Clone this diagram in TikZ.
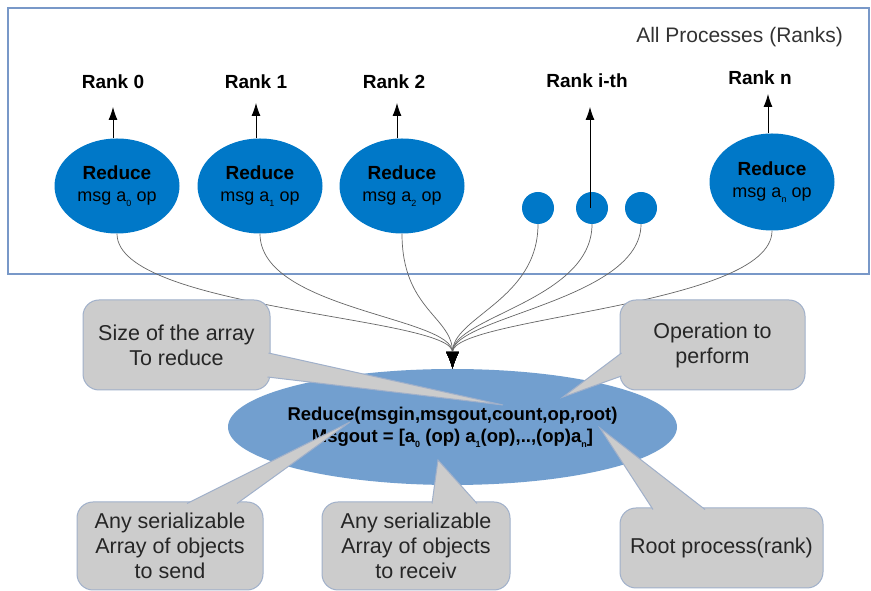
\documentclass[tikz,border=0pt]{standalone}
\usepackage{fontspec}
\setmainfont{Liberation Sans}
\usetikzlibrary{arrows.meta,shapes.geometric}
\definecolor{procblue}{RGB}{0,120,200}
\definecolor{centblue}{RGB}{114,159,207}
\definecolor{frameblue}{RGB}{120,152,200}
\definecolor{callfill}{RGB}{204,204,204}
\definecolor{calldraw}{RGB}{160,176,202}
\newcommand{\sbx}[1]{\raisebox{-5pt}{\fontsize{9}{9}\selectfont #1}}
\begin{document}
\begin{tikzpicture}[x=1pt,y=1pt,
 proc/.style={ellipse, fill=procblue, minimum width=125pt, minimum height=95pt, inner sep=0pt, align=center, text=black, font=\fontsize{18}{22}\selectfont},
 dot/.style={circle, fill=procblue, minimum size=32pt, inner sep=0pt},
 rank/.style={font=\fontsize{19}{22}\selectfont\bfseries, anchor=base, inner sep=0pt},
 up/.style={-{Latex[length=13pt,width=9pt]}, line width=0.8pt, black},
 feed/.style={-{Latex[length=17pt,width=13pt,color=black]}, line width=0.7pt, black!60, out=-90, in=90, out distance=76pt, in distance=52pt},
 callout/.style={rectangle, rounded corners=16pt, fill=callfill, draw=calldraw, line width=1pt, align=center, font=\fontsize{21.5}{25}\selectfont, text=black!85, inner sep=0pt},
 tail/.style={fill=callfill, draw=calldraw, line width=1pt, line join=miter}
]
\fill[white] (0,0) rectangle (871,591);
\useasboundingbox (0,0) rectangle (871,591);

% frame of all processes
\draw[frameblue, line width=2pt] (8,317) rectangle (869,583);
\node[anchor=base east, font=\fontsize{21}{25}\selectfont, text=black!80, inner sep=0pt] (title) at (843,548) {All Processes (Ranks)};

% processes
\node[proc] (E0) at (117,405) {{\fontsize{19}{22}\selectfont\bfseries Reduce}\\msg a\sbx{0} op};
\node[proc] (E1) at (260,405) {{\fontsize{19}{22}\selectfont\bfseries Reduce}\\msg a\sbx{1} op};
\node[proc] (E2) at (402,405) {{\fontsize{19}{22}\selectfont\bfseries Reduce}\\msg a\sbx{2} op};
\node[dot] (c1) at (538,383) {};
\node[dot] (c2) at (592,383) {};
\node[dot] (c3) at (641,383) {};
\node[proc, minimum height=97pt] (En) at (772,409) {{\fontsize{19}{22}\selectfont\bfseries Reduce}\\msg a\sbx{n} op};

% rank labels
\node[rank] (L0) at (113,502) {Rank 0};
\node[rank] (L1) at (256,502) {Rank 1};
\node[rank] (L2) at (394,502) {Rank 2};
\node[rank] (Li) at (587,503) {Rank i-th};
\node[rank] (Ln) at (760,506) {Rank n};

% arrow tips below labels
\coordinate (t0) at (113,484);
\coordinate (t1) at (256,488);
\coordinate (t2) at (397,488);
\coordinate (ti) at (590,484);
\coordinate (tn) at (768,497);
\draw[up] (E0.north -| t0) -- (t0);
\draw[up] (E1.north -| t1) -- (t1);
\draw[up] (E2.north -| t2) -- (t2);
\draw[up] (c2.center -| ti) -- (ti);
\draw[up] (En.north -| tn) -- (tn);

% central reduce
\node[ellipse, fill=centblue, minimum width=449pt, minimum height=116pt, inner xsep=-30pt, inner ysep=0pt, align=center, text=black, font=\fontsize{18.5}{22}\selectfont\bfseries] (R) at (452.5,164)
 {Reduce(msgin,msgout,count,op,root)\\Msgout = [a\sbx{0} (op) a\sbx{1}(op),..,(op)a\sbx{n}]};

% feeding curves
\foreach \s in {E0,E1,E2,c1,c2,c3,En}
  \draw[feed] (\s.south) to (R.north);

% callouts
\node[callout, minimum width=187pt, minimum height=90pt] (C1) at (176.5,246) {Size of the array\\To reduce};
\node[callout, minimum width=185pt, minimum height=90pt] (C2) at (712.5,246) {Operation to\\perform};
\node[callout, minimum width=186pt, minimum height=88pt] (C3) at (170,45) {Any serializable\\Array of objects\\to send};
\node[callout, minimum width=188pt, minimum height=88pt] (C4) at (416,45) {Any serializable\\Array of objects\\to receiv};
\node[callout, minimum width=203pt, minimum height=80pt] (C5) at (721.5,43) {Root process(rank)};

% callout tails
\coordinate (p1) at (503,186);
\coordinate (p2) at (563,194);
\coordinate (p3) at (350,169);
\coordinate (p4) at (438,131);
\coordinate (p5) at (600,163);
\path[tail] (268.5,238) -- (p1) -- (267.5,214);
\path[tail] (621.5,238) -- (p2) -- (621.5,215);
\path[tail] (187,87.5) -- (p3) -- (237,87.5);
\path[tail] (432,87.5) -- (p4) -- (477,87.5);
\path[tail] (653,81.5) -- (p5) -- (705,81.5);
\end{tikzpicture}
\end{document}
